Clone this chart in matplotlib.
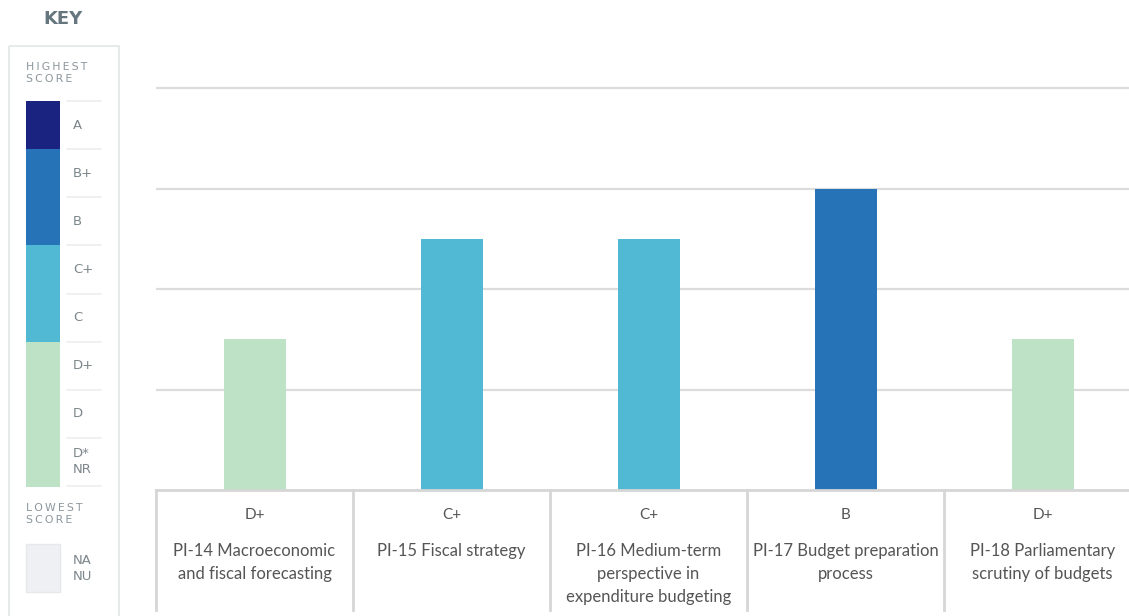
import matplotlib.pyplot as plt
from matplotlib.patches import Rectangle

# PEFA pillar: policy-based fiscal strategy and budgeting
indicators = ["PI-14 Macroeconomic\nand fiscal forecasting",
              "PI-15 Fiscal strategy",
              "PI-16 Medium-term\nperspective in\nexpenditure budgeting",
              "PI-17 Budget preparation\nprocess",
              "PI-18 Parliamentary\nscrutiny of budgets"]
grades = ["D+", "C+", "C+", "B", "D+"]

# grade scale, highest first (key order)
key_grades = ["A", "B+", "B", "C+", "C", "D+", "D", "D*\nNR"]
key_scores = [8, 7, 6, 5, 4, 3, 2, 1]
grid_levels = [2, 4, 6, 8]

band_colors = {"A": "#1b2380", "B": "#2673b8", "C": "#51b9d3", "D": "#bde2c6"}
na_color = "#eff0f4"
score_of = dict(zip(key_grades, key_scores))


def grade_color(g):
    return band_colors[g[0]]


def spaced(word):
    return "\u2009".join(word)


W, H = 1129, 616
fig = plt.figure(figsize=(W / 100, H / 100), dpi=100)
plt.rcParams['font.family'] = ['Lato', 'DejaVu Sans']

# main chart axes in pixel layout
x0, y_base, y_top = 156, 490, 68
cat_w = 197
ax = fig.add_axes([x0 / W, 1 - y_base / H, 5 * cat_w / W, (y_base - y_top) / H])
ax.set_xlim(-0.5, 4.5)
ax.set_ylim(0, 8.4)
for s in ax.spines.values():
    s.set_visible(False)
ax.set_xticks([])
ax.set_yticks([])
for lv in grid_levels:
    ax.axhline(lv, color="#dcdcdc", lw=1.6, zorder=0)
ax.axhline(0, color="#d6d6d6", lw=2, zorder=3, clip_on=False)

xs = list(range(len(indicators)))
vals = [score_of[g] for g in grades]
ax.bar(xs, vals, width=62 / cat_w, color=[grade_color(g) for g in grades], zorder=2)

# table under the bars
tr = ax.get_xaxis_transform()
for i in range(len(indicators)):
    ax.plot([i - 0.5, i - 0.5], [0, -120 / (y_base - y_top)], transform=tr,
            color="#d6d6d6", lw=2, clip_on=False)
    ax.annotate(grades[i], (i, 0), xycoords=tr, xytext=(0, -25),
                textcoords="offset pixels", ha="center", va="center",
                fontsize=11, color="#555555")
    ax.annotate(indicators[i], (i, 0), xycoords=tr, xytext=(0, -53),
                textcoords="offset pixels", ha="center", va="top",
                fontsize=12, color="#555555", linespacing=1.55)

# key panel, drawn in pixel coordinates
kx = fig.add_axes([0, 0, 1, 1], zorder=-1)
kx.set_xlim(0, W)
kx.set_ylim(H, 0)
kx.axis("off")
kx.add_patch(Rectangle((9, 46), 110, 600, fill=False, ec="#e3e6e8", lw=1.2))
kx.text(63, 19, "KEY", ha="center", va="center", fontsize=13,
        fontweight="bold", color="#66767e", family="DejaVu Sans")
small = dict(fontsize=7.8, color="#8a969c", family="DejaVu Sans", linespacing=1.2)
kx.text(26, 73, spaced("HIGHEST") + "\n" + spaced("SCORE"),
        ha="left", va="center", **small)
kx.text(26, 514, spaced("LOWEST") + "\n" + spaced("SCORE"),
        ha="left", va="center", **small)

step = (486 - 101) / len(key_grades)
for j, g in enumerate(key_grades):
    top = 101 + j * step
    kx.add_patch(Rectangle((26, top), 34, step + 0.5, color=grade_color(g), lw=0))
    kx.plot([67, 101], [top, top], color="#eceef0", lw=1.2)
    kx.text(73, top + step / 2, g, ha="left", va="center", fontsize=9.5,
            color="#7c868b", family="DejaVu Sans", linespacing=1.3)
kx.plot([67, 101], [486, 486], color="#eceef0", lw=1.2)

kx.add_patch(Rectangle((26, 544), 34, 48, fc=na_color, ec="#e6e8ec", lw=1))
kx.text(73, 568, "NA\nNU", ha="left", va="center", fontsize=9.5,
        color="#7c868b", family="DejaVu Sans", linespacing=1.3)

fig.savefig("out.png", dpi=100)
